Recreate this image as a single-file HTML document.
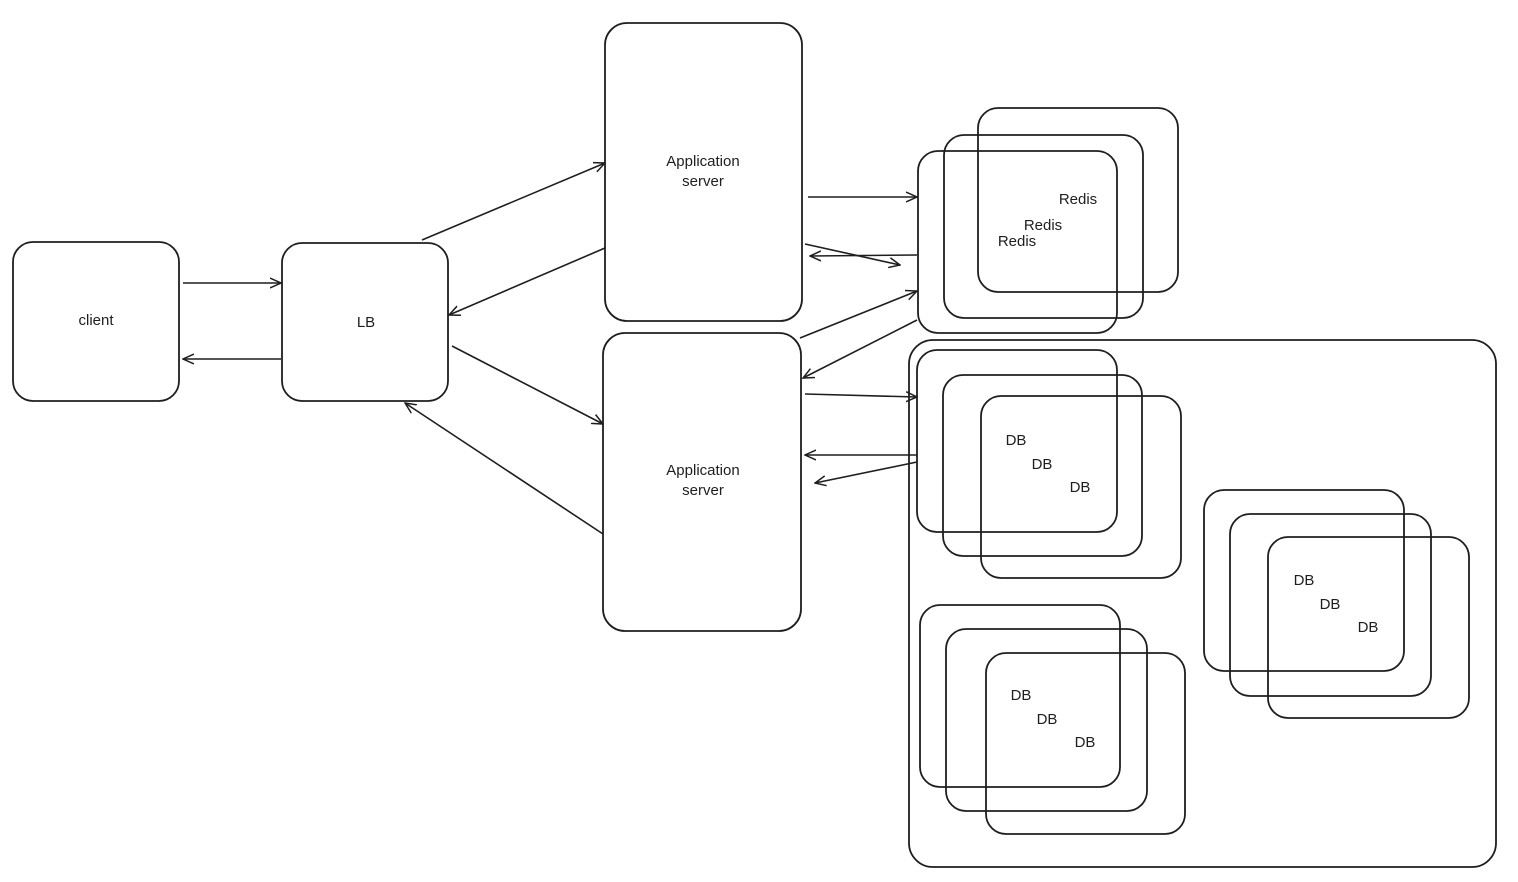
<!DOCTYPE html>
<html><head><meta charset="utf-8"><style>
html,body{margin:0;padding:0;background:#fff;}
svg{display:block}
text{font-family:"Liberation Sans",sans-serif;font-size:15px;fill:#1e1e1e;text-anchor:middle;dominant-baseline:middle}
</style></head><body>
<svg width="1518" height="882" viewBox="0 0 1518 882">
<defs><marker id="a" viewBox="0 0 12 12" refX="11" refY="6" markerWidth="12" markerHeight="12" markerUnits="userSpaceOnUse" orient="auto"><path d="M0,1 L11,6 L0,11" fill="none" stroke="#1e1e1e" stroke-width="1.5"/></marker></defs>
<g fill="none" stroke="#1e1e1e" stroke-width="1.8">
<rect x="13" y="242" width="166" height="159" rx="20"/>
<rect x="282" y="243" width="166" height="158" rx="20"/>
<rect x="605" y="23" width="197" height="298" rx="22"/>
<rect x="603" y="333" width="198" height="298" rx="22"/>
<rect x="918" y="151" width="199" height="182" rx="20"/>
<rect x="944" y="135" width="199" height="183" rx="20"/>
<rect x="978" y="108" width="200" height="184" rx="20"/>
<rect x="909" y="340" width="587" height="527" rx="24"/>
<rect x="917" y="350" width="200" height="182" rx="20"/>
<rect x="943" y="375" width="199" height="181" rx="20"/>
<rect x="981" y="396" width="200" height="182" rx="20"/>
<rect x="1204" y="490" width="200" height="181" rx="20"/>
<rect x="1230" y="514" width="201" height="182" rx="20"/>
<rect x="1268" y="537" width="201" height="181" rx="20"/>
<rect x="920" y="605" width="200" height="182" rx="20"/>
<rect x="946" y="629" width="201" height="182" rx="20"/>
<rect x="986" y="653" width="199" height="181" rx="20"/>
</g>
<g stroke="#1e1e1e" stroke-width="1.6" fill="none" marker-end="url(#a)">
<line x1="183" y1="283" x2="281" y2="283"/>
<line x1="281" y1="359" x2="183" y2="359"/>
<line x1="422" y1="240" x2="605" y2="163"/>
<line x1="605" y1="248" x2="449" y2="315"/>
<line x1="452" y1="346" x2="603" y2="424"/>
<line x1="603" y1="534" x2="405" y2="403"/>
<line x1="808" y1="197" x2="917" y2="197"/>
<line x1="805" y1="244" x2="900" y2="265"/>
<line x1="917" y1="255" x2="810" y2="256"/>
<line x1="800" y1="338" x2="917" y2="291"/>
<line x1="917" y1="320" x2="803" y2="378"/>
<line x1="805" y1="394" x2="917" y2="397"/>
<line x1="917" y1="455" x2="805" y2="455"/>
<line x1="917" y1="462" x2="815" y2="483"/>
</g>
<text x="96" y="321">client</text>
<text x="366" y="323">LB</text>
<text x="703" y="162">Application</text><text x="703" y="182">server</text>
<text x="703" y="471">Application</text><text x="703" y="491">server</text>
<text x="1078" y="200">Redis</text><text x="1043" y="226">Redis</text><text x="1017" y="242">Redis</text>
<text x="1016" y="441">DB</text><text x="1042" y="465">DB</text><text x="1080" y="488">DB</text>
<text x="1304" y="581">DB</text><text x="1330" y="605">DB</text><text x="1368" y="628">DB</text>
<text x="1021" y="696">DB</text><text x="1047" y="720">DB</text><text x="1085" y="743">DB</text>
</svg>
</body></html>
